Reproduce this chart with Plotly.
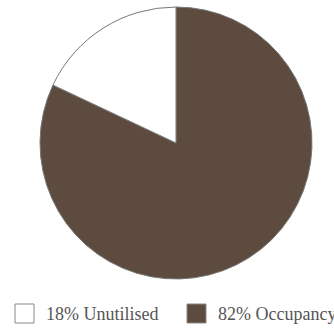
import plotly.graph_objects as go

labels = ["18% Unutilised", "82% Occupancy"]
values = [18, 82]
colors = ["#ffffff", "#5e4b40"]

W, H = 334, 329
ML, MR, MT, MB = 40, 22, 7, 50
PW, PH = W - ML - MR, H - MT - MB

def px(x):
    return (x - ML) / PW

def py(y):
    return (H - MB - y) / PH

# pie drawn with Occupancy first so the unutilised wedge sits left of 12 o'clock
fig = go.Figure(go.Pie(
    labels=labels[::-1], values=values[::-1], sort=False, direction="clockwise",
    rotation=0, marker=dict(colors=colors[::-1], line=dict(color="#777777", width=1)),
    textinfo="none", hoverinfo="label", showlegend=False
))

# custom legend (large swatches)
legend_x = [15, 187]
shapes, annots = [], []
for lab, col, x0 in zip(labels, colors, legend_x):
    shapes.append(dict(type="rect", xref="paper", yref="paper",
                       x0=px(x0), x1=px(x0 + 19), y0=py(323), y1=py(304),
                       fillcolor=col, line=dict(color="#888888", width=1)))
    annots.append(dict(text=lab, xref="paper", yref="paper", x=px(x0 + 29), y=py(313.5),
                       xanchor="left", yanchor="middle", showarrow=False,
                       font=dict(family="Liberation Serif", size=18, color="#555555")))

fig.update_layout(
    width=W, height=H,
    margin=dict(l=ML, r=MR, t=MT, b=MB),
    paper_bgcolor="white", plot_bgcolor="white",
    shapes=shapes, annotations=annots,
)
fig.write_html("out.html")
